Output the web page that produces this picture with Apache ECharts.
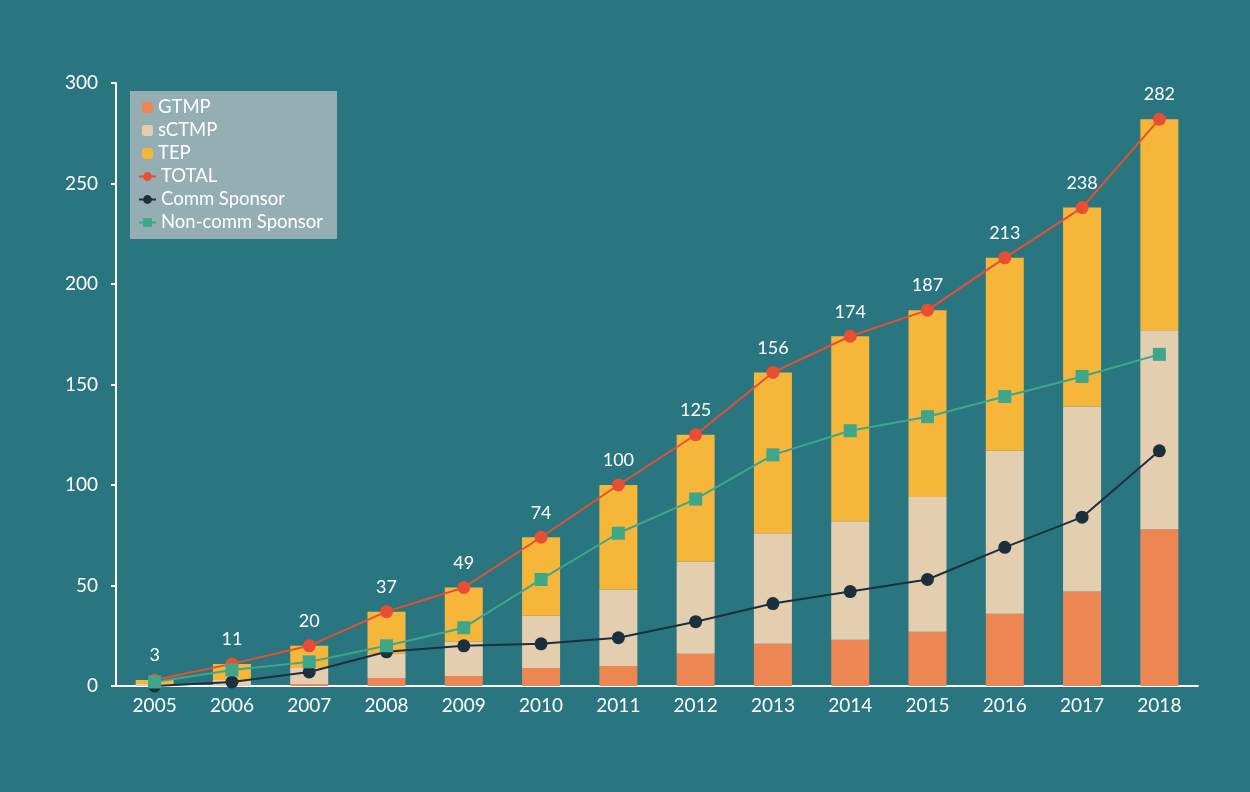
<!DOCTYPE html>
<html>
<head>
<meta charset="utf-8">
<script src="https://cdn.jsdelivr.net/npm/echarts@6/dist/echarts.min.js"></script>
<style>
html,body{margin:0;padding:0;background:#2a7680;}
#c{width:1250px;height:792px;}
</style>
</head>
<body>
<div id="c"></div>
<script>
const categories = ['2005','2006','2007','2008','2009','2010','2011','2012','2013','2014','2015','2016','2017','2018'];
const gtmp   = [0, 0, 1, 4, 5, 9, 10, 16, 21, 23, 27, 36, 47, 78];
const sctmp  = [1, 3, 8, 12, 17, 26, 38, 46, 55, 59, 67, 81, 92, 99];
const tep    = [2, 8, 11, 21, 27, 39, 52, 63, 80, 92, 93, 96, 99, 105];
const total  = [3, 11, 20, 37, 49, 74, 100, 125, 156, 174, 187, 213, 238, 282];
const comm   = [0, 2, 7, 17, 20, 21, 24, 32, 41, 47, 53, 69, 84, 117];
const noncomm= [2, 8, 12, 20, 29, 53, 76, 93, 115, 127, 134, 144, 154, 165];
const yTicks = [0, 50, 100, 150, 200, 250, 300];

const FONT = 'Lato';
const chart = echarts.init(document.getElementById('c'), null, {renderer:'canvas'});
const barBase = {type:'bar', stack:'s', barWidth:38, emphasis:{disabled:true}};
chart.setOption({
  backgroundColor:'#2a7680',
  animation:false,
  textStyle:{fontFamily:FONT},
  grid:{left:116, right:52, top:83, bottom:106},
  graphic:[{type:'rect', shape:{x:130, y:91, width:207, height:148}, style:{fill:'#95aeb4'}, z:-1}],
  legend:[{
    data:['GTMP','sCTMP','TEP'],
    orient:'vertical', left:142, top:98, padding:0,
    itemWidth:11, itemHeight:11, itemGap:4,
    textStyle:{color:'#ffffff', fontSize:18.5, fontFamily:FONT},
    selectedMode:false
  },{
    data:['TOTAL','Comm Sponsor','Non-comm Sponsor'],
    orient:'vertical', left:138, top:167, padding:0,
    itemWidth:17, itemHeight:11, itemGap:4,
    textStyle:{color:'#ffffff', fontSize:18.5, fontFamily:FONT},
    selectedMode:false
  }],
  xAxis:{
    type:'category', data:categories,
    axisLine:{lineStyle:{color:'#ffffff', width:2}},
    axisTick:{show:false},
    axisLabel:{color:'#ffffff', fontSize:19, margin:10, fontFamily:FONT}
  },
  yAxis:{
    type:'value', min:0, max:300, interval:50,
    axisLine:{show:true, lineStyle:{color:'#ffffff', width:2}},
    axisTick:{show:true, length:5, lineStyle:{color:'#ffffff', width:2}},
    splitLine:{show:false},
    axisLabel:{color:'#ffffff', fontSize:19, margin:18, fontFamily:FONT,
      formatter:function(v){return yTicks.indexOf(v)>=0 ? String(v) : '';}}
  },
  series:[
    Object.assign({name:'GTMP', data:gtmp, itemStyle:{color:'#ec8652'}}, barBase),
    Object.assign({name:'sCTMP', data:sctmp, itemStyle:{color:'#e3ceb0'}}, barBase),
    Object.assign({name:'TEP', data:tep, itemStyle:{color:'#f5b63a'}}, barBase),
    {name:'TOTAL', type:'line', data:total, symbol:'circle', symbolSize:13,
      itemStyle:{color:'#e84f32'}, lineStyle:{color:'#e84f32', width:2},
      label:{show:true, position:'top', distance:9, color:'#ffffff', fontSize:18, fontFamily:FONT},
      emphasis:{disabled:true}, z:3},
    {name:'Comm Sponsor', type:'line', data:comm, symbol:'circle', symbolSize:13,
      itemStyle:{color:'#1c2f3c'}, lineStyle:{color:'#1c2f3c', width:2},
      emphasis:{disabled:true}, z:4},
    {name:'Non-comm Sponsor', type:'line', data:noncomm, symbol:'rect', symbolSize:13,
      itemStyle:{color:'#3fa68a'}, lineStyle:{color:'#3fa68a', width:2},
      emphasis:{disabled:true}, z:5}
  ]
});
</script>
</body>
</html>
